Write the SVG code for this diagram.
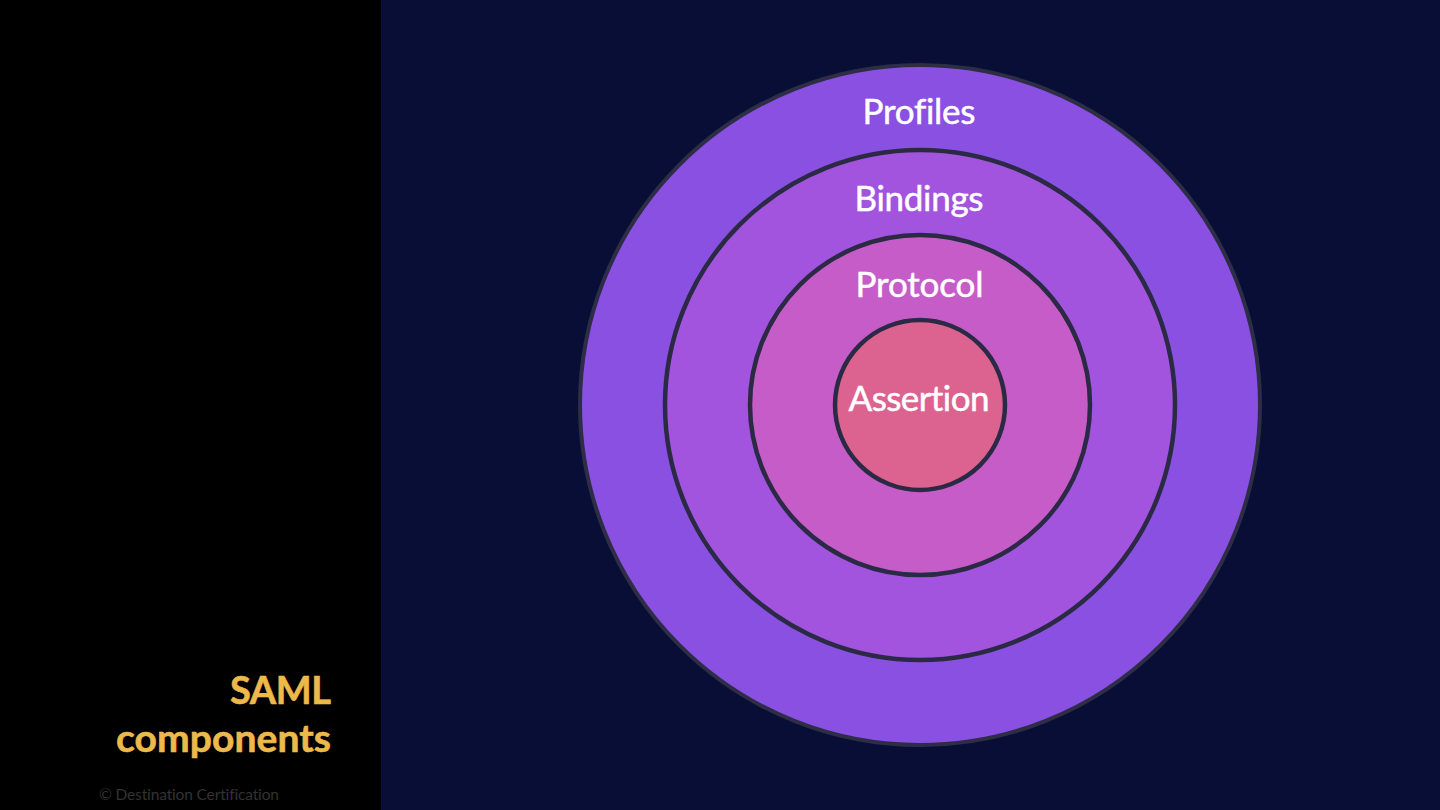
<svg xmlns="http://www.w3.org/2000/svg" width="1440" height="810" viewBox="0 0 1440 810">
<style>
text{font-variant-ligatures:none;font-family:"Lato","Open Sans",sans-serif}
.ring{stroke:#2b2a44;stroke-width:4.5}
.lbl{font-size:35px;fill:#fff;text-anchor:middle;stroke:#fff;stroke-width:.5}
.ttl{font-size:39px;font-weight:700;fill:#eeb94b;text-anchor:end;stroke:#eeb94b;stroke-width:.6}
</style>
<rect width="1440" height="810" fill="#090e36"/>
<rect width="381" height="810" fill="#000"/>
<g id="profiles"><circle cx="920" cy="405" r="340" fill="#8a50e2" stroke="#2d2d45" stroke-width="4"/><text class="lbl" x="919" y="124" textLength="113">Profiles</text></g>
<g id="bindings"><circle class="ring" cx="920" cy="405" r="255" fill="#a254df"/><text class="lbl" x="919" y="211" textLength="129">Bindings</text></g>
<g id="protocol"><circle class="ring" cx="920" cy="405" r="170" fill="#c65cc8"/><text class="lbl" x="919.500" y="297" textLength="128">Protocol</text></g>
<g id="assertion"><circle class="ring" cx="920" cy="405" r="85" fill="#dc6390"/><text class="lbl" x="919" y="411" textLength="141">Assertion</text></g>
<g id="title"><text class="ttl" x="331" y="704" style="font-size:38px" textLength="101">SAML</text><text class="ttl" x="331" y="752" textLength="215">components</text></g>
<text x="99" y="800" font-size="15.500" fill="#333" textLength="180">© Destination Certification</text>
</svg>
